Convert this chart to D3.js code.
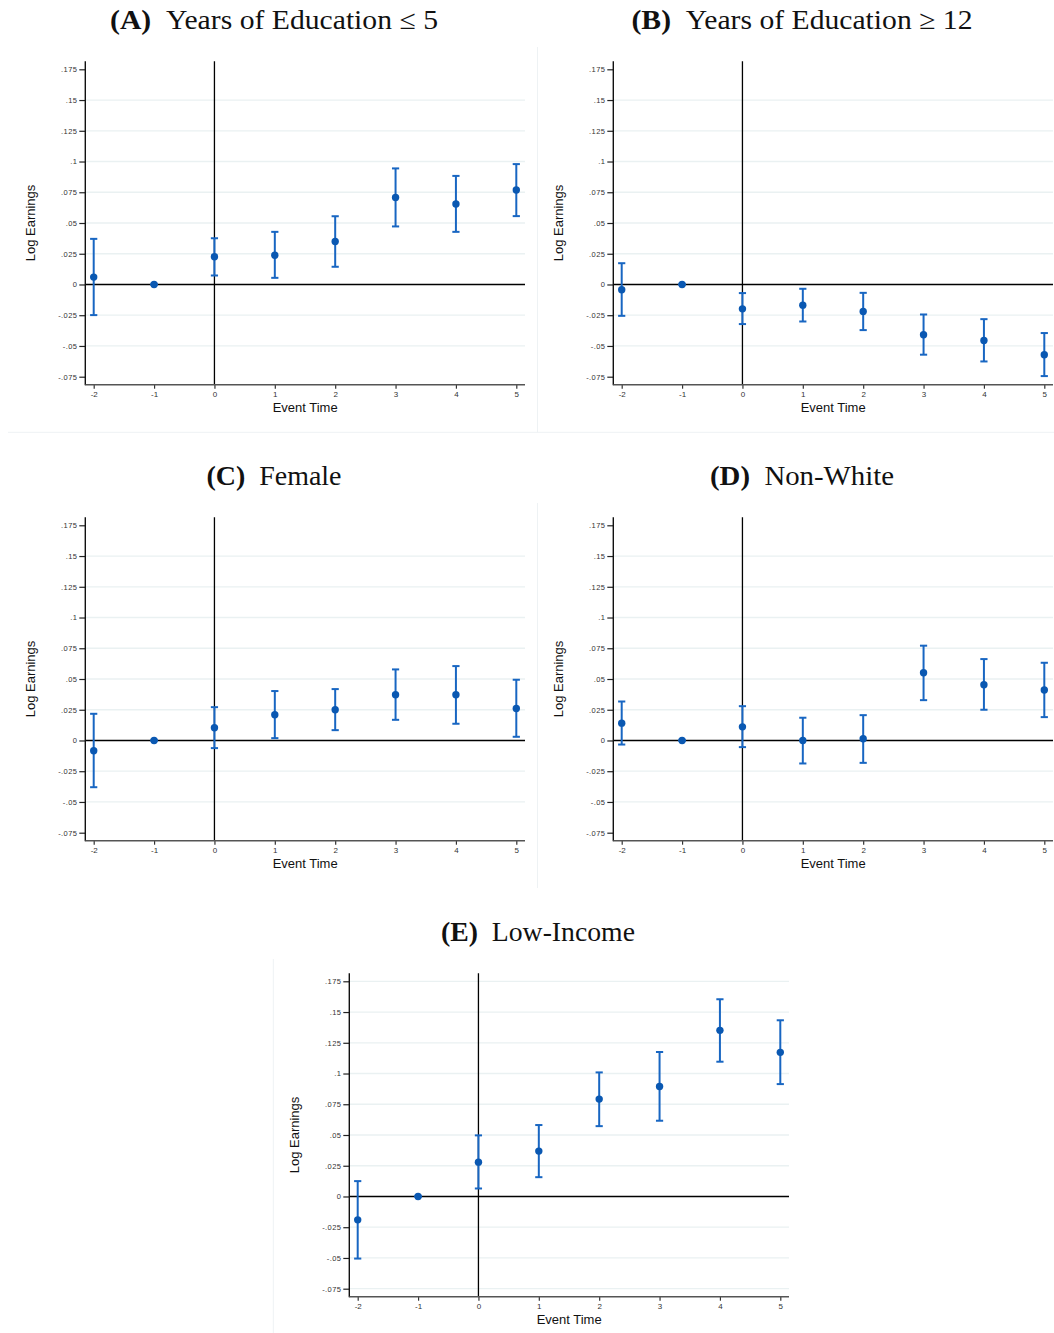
<!DOCTYPE html>
<html>
<head>
<meta charset="utf-8">
<script src="https://cdn.jsdelivr.net/npm/d3@7"></script>
<style>
  body { margin: 0; background: #fff; }
</style>
</head>
<body>
<div class="figure"></div>
<script>
// event time on the x axis, ticks on the y axis
const eventTimes = [-2, -1, 0, 1, 2, 3, 4, 5];
const yTickValues = [-0.075, -0.05, -0.025, 0, 0.025, 0.05, 0.075, 0.1, 0.125, 0.15, 0.175];
const yTickLabels = ["-.075", "-.05", "-.025", "0", ".025", ".05", ".075", ".1", ".125", ".15", ".175"];

// panel titles
const panelTags = ["(A)", "(B)", "(C)", "(D)", "(E)"];
const panelNames = ["Years of Education \u2264 5", "Years of Education \u2265 12", "Female", "Non-White", "Low-Income"];

// point estimates and 95% CI bounds
const coefA = [0.006, 0, 0.0225, 0.0238, 0.0349, 0.0707, 0.0654, 0.0768];
const lowA  = [-0.0249, 0, 0.0073, 0.0054, 0.0144, 0.0472, 0.0428, 0.0556];
const highA = [0.0371, 0, 0.0376, 0.0428, 0.0555, 0.0944, 0.0883, 0.0979];

const coefB = [-0.0043, 0, -0.0198, -0.0168, -0.0219, -0.0409, -0.0455, -0.0571];
const lowB  = [-0.0255, 0, -0.0322, -0.0301, -0.0371, -0.0571, -0.0626, -0.0745];
const highB = [0.0173, 0, -0.007, -0.0035, -0.0068, -0.0244, -0.0282, -0.0395];

const coefC = [-0.0084, 0, 0.0103, 0.0209, 0.025, 0.0372, 0.0372, 0.026];
const lowC  = [-0.038, 0, -0.0062, 0.0019, 0.0084, 0.0168, 0.0136, 0.003];
const highC = [0.0217, 0, 0.0271, 0.0402, 0.0418, 0.0578, 0.0605, 0.0494];

const coefD = [0.0141, 0, 0.0111, 0.0, 0.0014, 0.0551, 0.0453, 0.041];
const lowD  = [-0.0033, 0, -0.0054, -0.0187, -0.0182, 0.0328, 0.025, 0.019];
const highD = [0.0317, 0, 0.0279, 0.0185, 0.0206, 0.0771, 0.0662, 0.0632];

const coefE = [-0.019, 0, 0.0279, 0.0369, 0.0792, 0.0895, 0.1351, 0.1172];
const lowE  = [-0.0505, 0, 0.0065, 0.0157, 0.0572, 0.0616, 0.1096, 0.0914];
const highE = [0.0125, 0, 0.0497, 0.0581, 0.1009, 0.1175, 0.1604, 0.1433];

const W = 1054, H = 1333;
const navy = "#0a58b2", barBlue = "#1866c2", gridColor = "#eaf1f2", frameColor = "#eef2f4";

const svg = d3.select(".figure")
  .append("svg")
    .attr("width", W)
    .attr("height", H)
    .style("display", "block");

// faint frames left over from the combined graph images
const frames = [
  [8, 432.3, 1054, 432.3],
  [537.5, 47, 537.5, 432.3],
  [537.5, 503, 537.5, 888],
  [273.3, 959, 273.3, 1333]
];
svg.append("g").selectAll("line")
  .data(frames)
  .join("line")
    .attr("x1", d => d[0]).attr("y1", d => d[1])
    .attr("x2", d => d[2]).attr("y2", d => d[3])
    .attr("stroke", frameColor)
    .attr("stroke-width", 1);

const titleWidths = [328, 341, 135, 184, 194];
const offsets = [[0, 0], [528, 0], [0, 456], [528, 456], [264, 912]];
const series = [
  [coefA, lowA, highA],
  [coefB, lowB, highB],
  [coefC, lowC, highC],
  [coefD, lowD, highD],
  [coefE, lowE, highE]
];

function drawPanel(i) {
  const [coef, low, high] = series[i];
  const data = eventTimes.map((t, j) => ({t: t, b: coef[j], lo: low[j], hi: high[j]}));
  const axisTop = 61.3, axisBottom = 384.7, axisLeft = 85.3, axisRight = 525;

  const g = svg.append("g")
    .attr("transform", `translate(${offsets[i][0]},${offsets[i][1]})`);

  const x = d3.scaleLinear().domain([-2, 5]).range([93.7, 516.3]);
  const y = d3.scaleLinear().domain([-0.075, 0.175]).range([376.7, 69.3]);

  // title
  const title = g.append("text")
    .attr("x", 274)
    .attr("y", 28.5)
    .attr("text-anchor", "middle")
    .attr("font-family", "'Liberation Serif', 'DejaVu Serif', serif")
    .attr("font-size", 27)
    .attr("fill", "#111")
    .attr("textLength", titleWidths[i])
    .attr("lengthAdjust", "spacingAndGlyphs");
  title.append("tspan").attr("font-weight", "bold").text(panelTags[i]);
  title.append("tspan").text("\u2002" + panelNames[i]);

  // grid lines (panel E keeps the outer ones too)
  const gridVals = yTickValues.filter(v => v !== 0 && (i === 4 || (v !== 0.175 && v !== -0.075)));
  g.append("g").selectAll("line")
    .data(gridVals)
    .join("line")
      .attr("x1", axisLeft).attr("x2", axisRight)
      .attr("y1", d => y(d)).attr("y2", d => y(d))
      .attr("stroke", gridColor)
      .attr("stroke-width", 1.3);

  // zero line and event line
  g.append("line")
    .attr("x1", axisLeft).attr("x2", axisRight)
    .attr("y1", y(0)).attr("y2", y(0))
    .attr("stroke", "#000").attr("stroke-width", 1.3);
  g.append("line")
    .attr("x1", x(0)).attr("x2", x(0))
    .attr("y1", axisTop).attr("y2", axisBottom)
    .attr("stroke", "#000").attr("stroke-width", 1.3);

  // y axis
  const yAxis = g.append("g")
    .attr("transform", `translate(${axisLeft},0)`)
    .call(d3.axisLeft(y)
      .tickValues(yTickValues)
      .tickFormat((d, k) => yTickLabels[k])
      .tickSize(6)
      .tickPadding(2));
  yAxis.select(".domain").remove();
  yAxis.selectAll(".tick line").attr("stroke", "#222").attr("stroke-width", 1.2);
  yAxis.selectAll(".tick text")
    .attr("font-family", "'Liberation Sans', Arial, sans-serif")
    .attr("font-size", 7.5)
    .attr("letter-spacing", 0.4)
    .attr("fill", "#333");
  g.append("line")
    .attr("x1", axisLeft).attr("x2", axisLeft)
    .attr("y1", axisTop).attr("y2", axisBottom + 0.6)
    .attr("stroke", "#111").attr("stroke-width", 1.4);

  // x axis
  const xAxis = g.append("g")
    .attr("transform", `translate(0,${axisBottom})`)
    .call(d3.axisBottom(x)
      .tickValues(eventTimes)
      .tickFormat(d => String(d))
      .tickSize(4)
      .tickPadding(2.5));
  xAxis.select(".domain").remove();
  xAxis.selectAll(".tick line").attr("stroke", "#333").attr("stroke-width", 1.2);
  xAxis.selectAll(".tick text")
    .attr("font-family", "'Liberation Sans', Arial, sans-serif")
    .attr("font-size", 8)
    .attr("fill", "#333");
  g.append("line")
    .attr("x1", axisLeft).attr("x2", axisRight)
    .attr("y1", axisBottom).attr("y2", axisBottom)
    .attr("stroke", "#555").attr("stroke-width", 1.6);

  // axis titles
  g.append("text")
    .attr("x", (axisLeft + axisRight) / 2)
    .attr("y", 412.3)
    .attr("text-anchor", "middle")
    .attr("font-family", "'Liberation Sans', Arial, sans-serif")
    .attr("font-size", 13)
    .attr("fill", "#111")
    .text("Event Time");
  g.append("text")
    .attr("transform", `translate(34.5,${(axisTop + axisBottom) / 2}) rotate(-90)`)
    .attr("text-anchor", "middle")
    .attr("font-family", "'Liberation Sans', Arial, sans-serif")
    .attr("font-size", 13)
    .attr("fill", "#111")
    .text("Log Earnings");

  // confidence intervals
  const bars = g.append("g")
    .attr("stroke", barBlue)
    .attr("stroke-width", 2)
    .selectAll("g")
    .data(data)
    .join("g");
  bars.append("line")
    .attr("x1", d => x(d.t)).attr("x2", d => x(d.t))
    .attr("y1", d => y(d.lo)).attr("y2", d => y(d.hi));
  bars.append("line")
    .attr("x1", d => x(d.t) - 3.6).attr("x2", d => x(d.t) + 3.6)
    .attr("y1", d => y(d.hi)).attr("y2", d => y(d.hi));
  bars.append("line")
    .attr("x1", d => x(d.t) - 3.6).attr("x2", d => x(d.t) + 3.6)
    .attr("y1", d => y(d.lo)).attr("y2", d => y(d.lo));

  // point estimates
  g.append("g")
    .selectAll("circle")
    .data(data)
    .join("circle")
      .attr("cx", d => x(d.t))
      .attr("cy", d => y(d.b))
      .attr("r", 3.7)
      .attr("fill", navy);
}

for (let i = 0; i < 5; i++) drawPanel(i);
</script>
</body>
</html>
